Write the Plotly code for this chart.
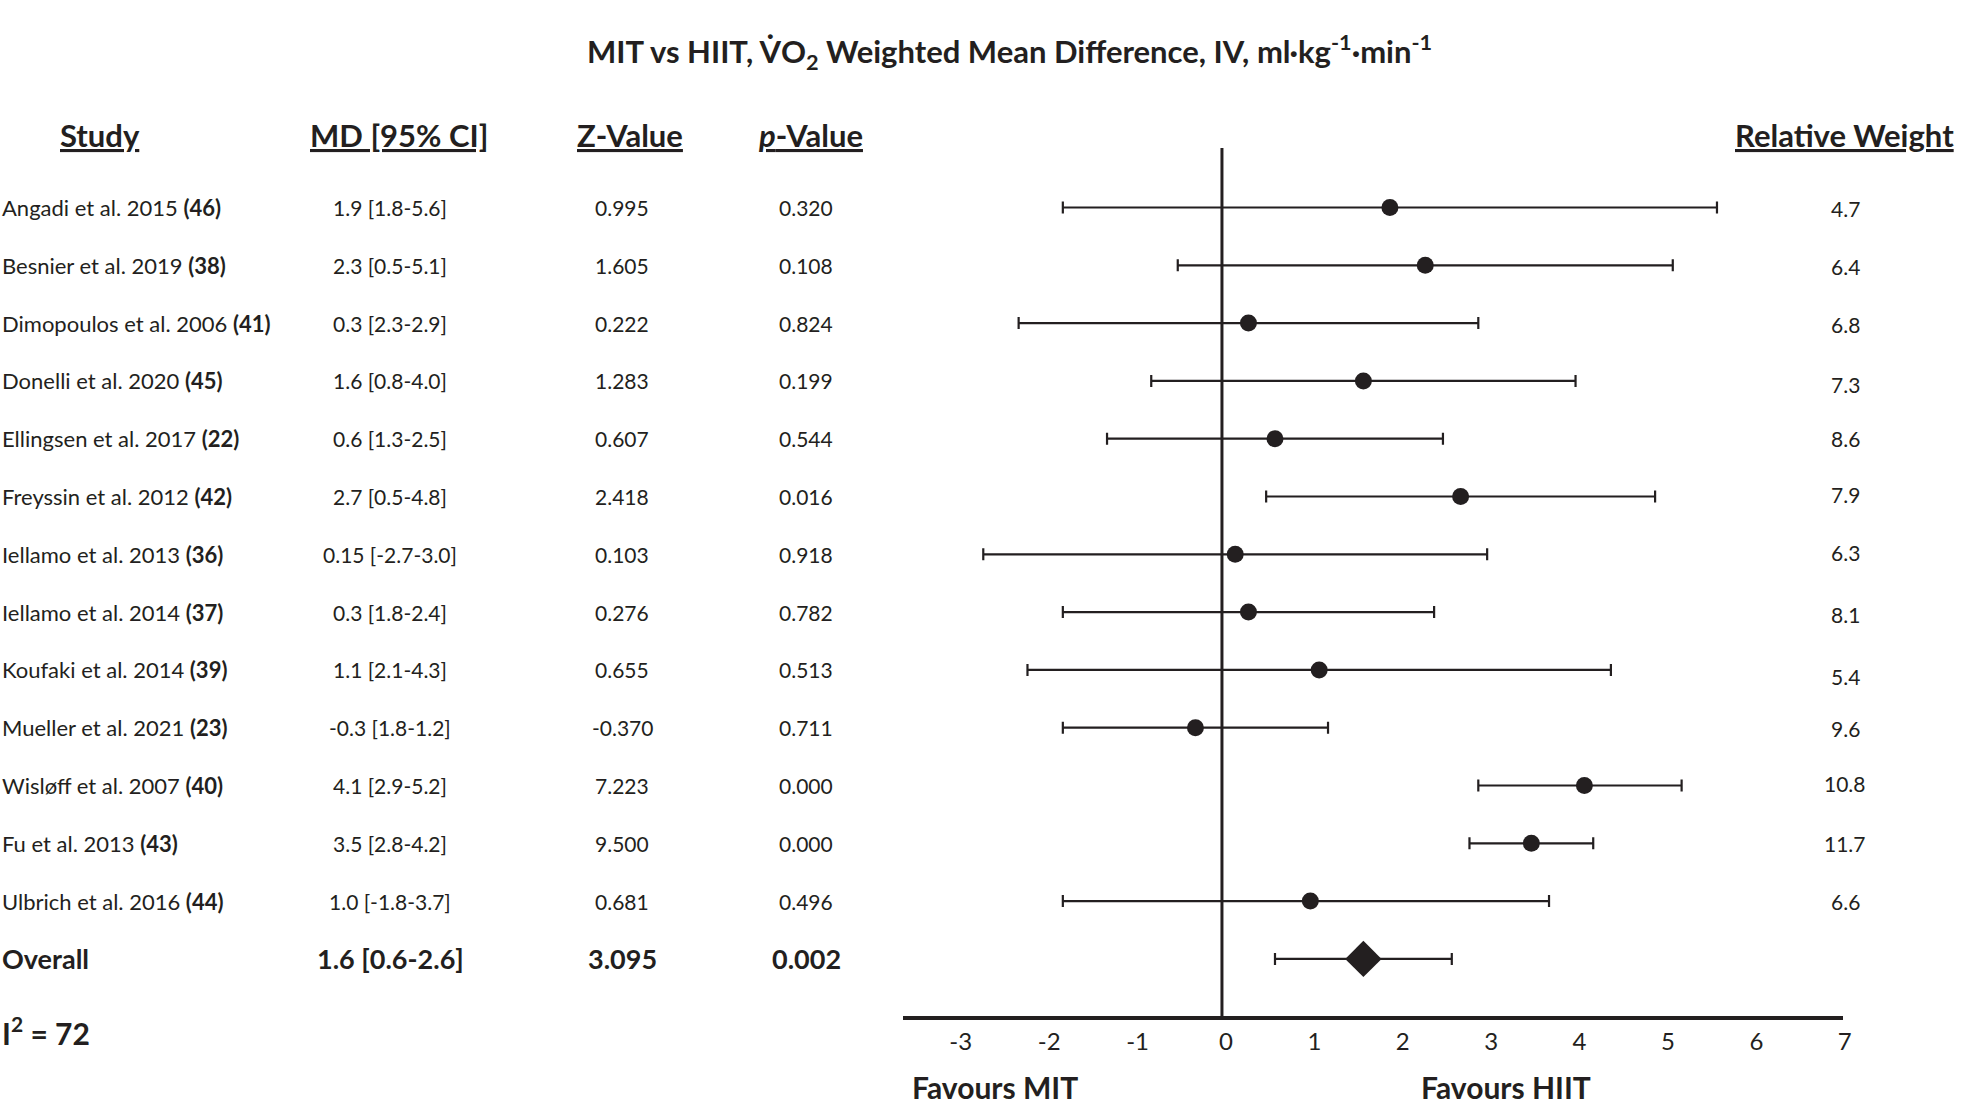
import plotly.graph_objects as go

# ---------------- data ----------------
studies = ["Angadi et al. 2015", "Besnier et al. 2019", "Dimopoulos et al. 2006",
           "Donelli et al. 2020", "Ellingsen et al. 2017", "Freyssin et al. 2012",
           "Iellamo et al. 2013", "Iellamo et al. 2014", "Koufaki et al. 2014",
           "Mueller et al. 2021", "Wisløff et al. 2007", "Fu et al. 2013",
           "Ulbrich et al. 2016"]
refs = ["46", "38", "41", "45", "22", "42", "36", "37", "39", "23", "40", "43", "44"]
md_text = ["1.9 [1.8-5.6]", "2.3 [0.5-5.1]", "0.3 [2.3-2.9]", "1.6 [0.8-4.0]",
           "0.6 [1.3-2.5]", "2.7 [0.5-4.8]", "0.15 [-2.7-3.0]", "0.3 [1.8-2.4]",
           "1.1 [2.1-4.3]", "-0.3 [1.8-1.2]", "4.1 [2.9-5.2]", "3.5 [2.8-4.2]",
           "1.0 [-1.8-3.7]"]
z_values = ["0.995", "1.605", "0.222", "1.283", "0.607", "2.418", "0.103",
            "0.276", "0.655", "-0.370", "7.223", "9.500", "0.681"]
p_values = ["0.320", "0.108", "0.824", "0.199", "0.544", "0.016", "0.918",
            "0.782", "0.513", "0.711", "0.000", "0.000", "0.496"]
weights = ["4.7", "6.4", "6.8", "7.3", "8.6", "7.9", "6.3", "8.1", "5.4",
           "9.6", "10.8", "11.7", "6.6"]
md = [1.9, 2.3, 0.3, 1.6, 0.6, 2.7, 0.15, 0.3, 1.1, -0.3, 4.1, 3.5, 1.0]
ci_low = [-1.8, -0.5, -2.3, -0.8, -1.3, 0.5, -2.7, -1.8, -2.2, -1.8, 2.9, 2.8, -1.8]
ci_high = [5.6, 5.1, 2.9, 4.0, 2.5, 4.9, 3.0, 2.4, 4.4, 1.2, 5.2, 4.2, 3.7]

overall_label = "Overall"
overall_md_text = "1.6 [0.6-2.6]"
overall_z = "3.095"
overall_p = "0.002"
overall_md = 1.6
overall_low = 0.6
overall_high = 2.6
i2_value = "72"

x_ticks = [-3, -2, -1, 0, 1, 2, 3, 4, 5, 6, 7]

# ---------------- layout / style ----------------
W, H = 1961, 1111
FONT = "Lato"
INK = "#231f20"
first_row_px = 207.5
row_gap_px = 57.8
axis_px = 1016
y_top = 1 - first_row_px / row_gap_px
y_bot = 1 + (axis_px - first_row_px) / row_gap_px
# small vertical nudges (px) of the weight labels, as in the original layout
weight_nudge_px = [1, 1, 1, 4, 0, -2, -2, 2, 7, 1, -2, 0, 0]

def px_x(p):
    return p / W

def px_y(p):
    return (H - p) / H

rows = list(range(1, len(studies) + 1))
overall_row = len(studies) + 1
header_row = 1 + (135 - first_row_px) / row_gap_px

fig = go.Figure()

# study estimates
fig.add_trace(go.Scatter(
    x=md, y=rows, mode="markers",
    marker=dict(symbol="circle", size=17, color=INK),
    error_x=dict(type="data", symmetric=False,
                 array=[h - m for h, m in zip(ci_high, md)],
                 arrayminus=[m - l for m, l in zip(md, ci_low)],
                 color=INK, thickness=2.2, width=6),
    showlegend=False, hoverinfo="skip"))

# overall estimate
fig.add_trace(go.Scatter(
    x=[overall_md], y=[overall_row], mode="markers",
    marker=dict(symbol="diamond", size=28, color=INK),
    error_x=dict(type="data", symmetric=False,
                 array=[overall_high - overall_md],
                 arrayminus=[overall_md - overall_low],
                 color=INK, thickness=2.2, width=6),
    showlegend=False, hoverinfo="skip"))

# zero line
fig.add_shape(type="line", xref="x", yref="y", x0=0, x1=0,
              y0=1 + (148 - first_row_px) / row_gap_px, y1=y_bot,
              line=dict(color=INK, width=3))

ann = []

def add(text, x, y, xanchor="center", yref="y", size=21):
    ann.append(dict(text=text, xref="paper", x=x, yref=yref, y=y,
                    xanchor=xanchor, yanchor="middle", showarrow=False,
                    font=dict(family=FONT, size=size, color=INK)))

# title
add("<b>MIT vs HIIT, V\u0307O<sub>2</sub> Weighted Mean Difference, IV, ml·kg<sup>-1</sup>·min<sup>-1</sup></b>",
    px_x(1014), px_y(52), yref="paper", size=31)

# headers
add("<b><u>Study</u></b>", px_x(100), header_row, size=31)
add("<b><u>MD [95% CI]</u></b>", px_x(401), header_row, size=31)
add("<b><u>Z-Value</u></b>", px_x(633), header_row, size=31)
add("<b><u><i>p</i>-Value</u></b>", px_x(814), header_row, size=31)
add("<b><u>Relative Weight</u></b>", px_x(1853), header_row, size=31)

# study rows
for r, s, ref, mt, z, p, w, dy in zip(rows, studies, refs, md_text, z_values,
                                      p_values, weights, weight_nudge_px):
    add(f"{s} <b>({ref})</b>", 0.0, r, xanchor="left", size=22)
    add(mt, px_x(392), r)
    add(z, px_x(625), r)
    add(p, px_x(810), r)
    add(w, px_x(1854), r + dy / row_gap_px)

# overall row
add(f"<b>{overall_label}</b>", 0.0, overall_row, xanchor="left", size=27)
add(f"<b>{overall_md_text}</b>", px_x(392), overall_row, size=27)
add(f"<b>{overall_z}</b>", px_x(625), overall_row, size=27)
add(f"<b>{overall_p}</b>", px_x(810), overall_row, size=27)

# heterogeneity
add(f"<b>I<sup>2</sup> = {i2_value}</b>", 0.0, px_y(1031), xanchor="left", yref="paper", size=30)

# favours labels
add("<b>Favours MIT</b>", px_x(914), px_y(1087), xanchor="left", yref="paper", size=30)
add("<b>Favours HIIT</b>", px_x(1426), px_y(1087), xanchor="left", yref="paper", size=30)

fig.update_layout(
    width=W, height=H,
    margin=dict(l=0, r=0, t=0, b=0),
    paper_bgcolor="white", plot_bgcolor="white",
    annotations=ann,
    xaxis=dict(domain=[px_x(907), px_x(1851)], range=[-3.61, 7.02],
               showline=True, linewidth=3.5, linecolor=INK,
               showgrid=False, zeroline=False, ticks="",
               tickvals=x_ticks, ticktext=[str(t) for t in x_ticks],
               tickfont=dict(family=FONT, size=24, color=INK),
               ticklabelstandoff=1, ticklabelshift=4, fixedrange=True),
    yaxis=dict(domain=[(H - axis_px) / H, 1], range=[y_bot, y_top],
               visible=False, showgrid=False, zeroline=False, fixedrange=True),
)

fig.write_html("out.html", config={"displayModeBar": False},
               post_script="document.body.style.margin='0';")
